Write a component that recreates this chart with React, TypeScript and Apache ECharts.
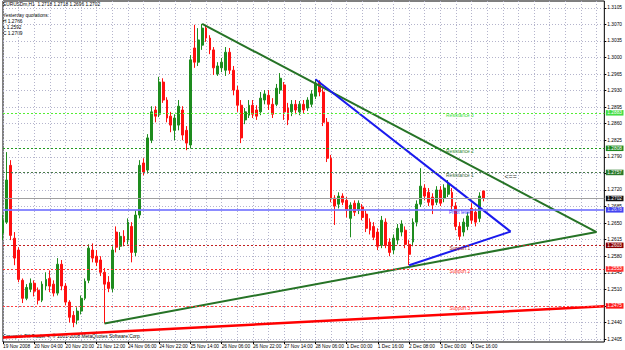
import React, { useEffect, useRef } from "react";
import * as echarts from "echarts";

const symbolName = "EURUSDm,H1";
const xTickLabels = [
  "19 Nov 2008", "20 Nov 04:00", "20 Nov 20:00", "21 Nov 12:00", "24 Nov 06:00", "24 Nov 22:00",
  "25 Nov 14:00", "26 Nov 06:00", "26 Nov 22:00", "27 Nov 14:00", "28 Nov 06:00", "1 Dec 00:00",
  "1 Dec 16:00", "2 Dec 08:00", "3 Dec 00:00", "3 Dec 16:00",
];
const barsPerLabel = 8;
const slotCount = 155;
const yTicks = [
  1.2405, 1.244, 1.2475, 1.251, 1.2545, 1.258, 1.2615, 1.265, 1.2685, 1.272, 1.2755,
  1.279, 1.2825, 1.286, 1.2895, 1.293, 1.2965, 1.3, 1.3035, 1.307, 1.3105,
];
// [open, close, low, high]
const candles = [
  [1.2629, 1.2656, 1.2614, 1.2667], [1.2652, 1.2741, 1.2648, 1.28], [1.2772, 1.2624, 1.2614, 1.2783],
  [1.2618, 1.2576, 1.2561, 1.2631], [1.2593, 1.2531, 1.2525, 1.2599], [1.2529, 1.2491, 1.2481, 1.2533],
  [1.2491, 1.2514, 1.2487, 1.2521], [1.251, 1.2523, 1.2504, 1.2533], [1.2523, 1.2506, 1.2495, 1.2529],
  [1.2508, 1.2487, 1.2478, 1.2514], [1.2487, 1.2521, 1.2483, 1.2527], [1.2517, 1.2531, 1.2508, 1.2546],
  [1.2533, 1.2517, 1.2504, 1.255], [1.2521, 1.2502, 1.2495, 1.2529], [1.2502, 1.2563, 1.2497, 1.2576],
  [1.2563, 1.2517, 1.2508, 1.2572], [1.2517, 1.2483, 1.2476, 1.2523], [1.2483, 1.2451, 1.244, 1.2487],
  [1.2455, 1.244, 1.243, 1.2464], [1.2445, 1.2464, 1.2436, 1.2472], [1.2464, 1.2491, 1.2457, 1.2497],
  [1.2491, 1.2527, 1.2487, 1.2533], [1.2529, 1.2597, 1.2523, 1.2605], [1.2593, 1.2576, 1.2567, 1.2607],
  [1.258, 1.2567, 1.2559, 1.2593], [1.2572, 1.2546, 1.2538, 1.258], [1.2546, 1.2521, 1.2438, 1.2555],
  [1.2525, 1.2512, 1.2504, 1.2538], [1.2512, 1.2593, 1.2504, 1.2601], [1.2631, 1.2599, 1.2588, 1.2643],
  [1.2601, 1.2622, 1.2593, 1.2631], [1.2622, 1.261, 1.2601, 1.2635], [1.2614, 1.2652, 1.2605, 1.266],
  [1.2643, 1.2588, 1.2567, 1.2652], [1.2588, 1.2667, 1.258, 1.2677], [1.2667, 1.2772, 1.266, 1.2783],
  [1.2777, 1.2758, 1.2751, 1.2787], [1.2762, 1.283, 1.2755, 1.2838], [1.2825, 1.2885, 1.2819, 1.2897],
  [1.2889, 1.2876, 1.2863, 1.2897], [1.288, 1.2948, 1.2874, 1.2959], [1.2948, 1.291, 1.2904, 1.2956],
  [1.291, 1.2872, 1.2863, 1.2916], [1.2876, 1.2857, 1.2842, 1.2885], [1.2846, 1.2872, 1.2825, 1.288],
  [1.2857, 1.2897, 1.2846, 1.291], [1.2889, 1.2836, 1.2825, 1.2897], [1.2846, 1.2819, 1.2804, 1.2855],
  [1.2815, 1.2995, 1.2808, 1.3005], [1.302, 1.299, 1.2978, 1.3069], [1.299, 1.3037, 1.2982, 1.3062],
  [1.3026, 1.3062, 1.3016, 1.3071], [1.3062, 1.3041, 1.3033, 1.3069], [1.3041, 1.3016, 1.3007, 1.3047],
  [1.3016, 1.2978, 1.2963, 1.3022], [1.2965, 1.2982, 1.2961, 1.299], [1.2978, 1.299, 1.2969, 1.2999],
  [1.2973, 1.3011, 1.2961, 1.3022], [1.3011, 1.2973, 1.2965, 1.302], [1.2973, 1.2931, 1.292, 1.2982],
  [1.2931, 1.2899, 1.2885, 1.294], [1.2899, 1.283, 1.2819, 1.291], [1.2868, 1.2885, 1.2859, 1.2893],
  [1.2878, 1.2899, 1.2872, 1.291], [1.2899, 1.288, 1.2872, 1.291], [1.2889, 1.2876, 1.2868, 1.2899],
  [1.2885, 1.2914, 1.2878, 1.2927], [1.291, 1.2923, 1.2901, 1.2931], [1.292, 1.2901, 1.2889, 1.2931],
  [1.2901, 1.288, 1.2872, 1.2914], [1.2901, 1.2935, 1.2897, 1.2944], [1.2931, 1.2956, 1.2923, 1.2967],
  [1.2942, 1.2885, 1.2868, 1.2948], [1.2893, 1.2868, 1.2857, 1.2904], [1.2885, 1.2901, 1.2876, 1.291],
  [1.2901, 1.2889, 1.288, 1.291], [1.2885, 1.2901, 1.2878, 1.2908], [1.2901, 1.2889, 1.2882, 1.291],
  [1.2893, 1.291, 1.2887, 1.2916], [1.2901, 1.2923, 1.2895, 1.2931], [1.2918, 1.2946, 1.2912, 1.2954],
  [1.2948, 1.2927, 1.2918, 1.2952], [1.2927, 1.2863, 1.2855, 1.2935], [1.2863, 1.2787, 1.2779, 1.2872],
  [1.2787, 1.2703, 1.2694, 1.2794], [1.2703, 1.2686, 1.2646, 1.2709], [1.269, 1.2707, 1.2681, 1.2715],
  [1.2707, 1.2694, 1.2688, 1.2713], [1.2698, 1.2677, 1.2662, 1.2705], [1.266, 1.2688, 1.262, 1.2694],
  [1.2692, 1.2673, 1.2665, 1.2698], [1.2677, 1.2692, 1.2669, 1.2698], [1.2684, 1.2662, 1.2656, 1.269],
  [1.2669, 1.2639, 1.2631, 1.2677], [1.2652, 1.2635, 1.2626, 1.266], [1.2643, 1.262, 1.2614, 1.2652],
  [1.2631, 1.2601, 1.2593, 1.2639], [1.2603, 1.2656, 1.2597, 1.2665], [1.2652, 1.2603, 1.2597, 1.266],
  [1.261, 1.2588, 1.258, 1.2618], [1.2593, 1.2618, 1.2584, 1.2626], [1.2614, 1.2639, 1.2605, 1.2648],
  [1.2631, 1.2648, 1.2622, 1.2656], [1.2635, 1.2605, 1.2597, 1.2643], [1.2605, 1.2584, 1.2561, 1.2614],
  [1.261, 1.2652, 1.2601, 1.266], [1.2652, 1.269, 1.2643, 1.2698], [1.269, 1.2728, 1.2684, 1.2766],
  [1.2724, 1.2707, 1.2698, 1.2732], [1.2715, 1.2694, 1.2686, 1.2724], [1.2705, 1.2688, 1.2669, 1.2713],
  [1.2694, 1.272, 1.2688, 1.2728], [1.272, 1.2692, 1.2686, 1.2728], [1.2703, 1.2724, 1.2694, 1.2732],
  [1.2711, 1.2732, 1.2705, 1.2741], [1.2715, 1.2686, 1.2677, 1.2724], [1.2686, 1.2643, 1.2635, 1.2694],
  [1.2643, 1.2622, 1.2614, 1.2652], [1.2631, 1.2652, 1.2622, 1.266], [1.2643, 1.2665, 1.2635, 1.2673],
  [1.2681, 1.2656, 1.2648, 1.2692], [1.2673, 1.2652, 1.2643, 1.2681], [1.266, 1.2707, 1.2652, 1.2715],
  [1.2718, 1.2702, 1.2696, 1.2718],
];
const levelNames = ["Resistance 3", "Resistance 2", "Resistance 1", "Pivot level", "Support 1", "Support 2", "Support 3"];
const levelValues = [1.2883, 1.2808, 1.2757, 1.2678, 1.2603, 1.2553, 1.2475];
const yesterdayNames = ["H", "L", "C"];
const yesterdayValues = [1.2766, 1.2592, 1.2709];
const greenUpper = [[51, 1.3071], [152, 1.2631]];
const greenLower = [[26, 1.2438], [152, 1.2631]];
const blueUpper = [[80, 1.2954], [130, 1.2632]];
const blueLower = [[104, 1.2561], [130, 1.2632]];
const redTrend = [[0, 1.2408], [154, 1.2474]];
const arrowPoint = [130, 1.2749];
const levelLabelBar = 117;
const copyright = "Forexpok FX Trader 4, \u00a9 2001-2008 MetaQuotes Software Corp.";

// styles
const FONT = "Liberation Sans, Arial, sans-serif";
const FS = 4.8;
const levelLineColors = ["#55ee33", "#1f9a1f", "#4a7a4a", "#7878ff", "#c02020", "#ff3030", "#ff4040"];
const levelLineTypes: any[] = [[2, 2], [2, 2], [2, 2], "solid", [2, 2], [2, 2], [2, 2]];
const levelLineWidths = [1, 1, 1, 2, 1, 1, 1];
const levelBoxColors = ["#44dd44", "#1f8a1f", "#2a7a2a", "#2222ee", "#8b0000", "#ff3030", "#ff1a1a"];
const levelTextColors = ["#44dd44", "#2e8b2e", "#3a6a3a", "#3333ff", "#a02020", "#ff3333", "#ff3333"];

export default function App() {
  const ref = useRef<HTMLDivElement>(null);
  useEffect(() => {
    if (!ref.current) return;
    const chart = echarts.init(ref.current, undefined, { renderer: "svg" });
    const last = candles[candles.length - 1];
    const bid = last[1];
    const categories = Array.from({ length: slotCount }, (_, i) => String(i));
    const lastLabelIdx = (xTickLabels.length - 1) * barsPerLabel;

    const boxLabel = (text: string, bg: string) => ({
      show: true, position: "end", formatter: text, backgroundColor: bg,
      color: "#fff", fontSize: FS, fontFamily: FONT, padding: [0.5, 1.5, 0, 1.5], distance: 1.5,
    });
    const levelLines: any[] = levelValues.map((v, i) => ({
      yAxis: v,
      lineStyle: { color: levelLineColors[i], type: levelLineTypes[i], width: levelLineWidths[i], opacity: i === 3 ? 0.85 : 1 },
      label: boxLabel(v.toFixed(4), levelBoxColors[i]),
    }));
    levelLines.push({
      yAxis: bid,
      lineStyle: { color: "#a0a0a0", type: "solid", width: 1 },
      label: boxLabel(bid.toFixed(4), "#111"),
    });

    const levelTexts: any[] = levelNames.map((n, i) => ({
      coord: [levelLabelBar, levelValues[i]],
      symbol: "circle", symbolSize: 1, itemStyle: { color: "transparent" },
      label: { show: true, position: "inside", formatter: n, color: levelTextColors[i], fontSize: FS, fontFamily: FONT, offset: [0, 3] },
    }));
    levelTexts.push({
      coord: arrowPoint, symbol: "circle", symbolSize: 1, itemStyle: { color: "transparent" },
      label: { show: true, position: "inside", formatter: "<==", color: "#333", fontSize: 7, fontFamily: FONT },
    });

    const trend = (data: number[][], color: string, width: number, extra: any = {}) => ({
      type: "line", data, symbol: "none", silent: true, z: 4,
      lineStyle: { color, width }, itemStyle: { color }, animation: false, ...extra,
    });

    const headerLines = [
      `${symbolName}  ${last[0].toFixed(4)} ${last[3].toFixed(4)} ${last[2].toFixed(4)} ${last[1].toFixed(4)}`,
      "",
      "Yesterday quotations:",
      ...yesterdayNames.map((n, i) => `${n} ${yesterdayValues[i].toFixed(4)}`),
    ];

    chart.setOption({
      animation: false,
      backgroundColor: "#ffffff",
      textStyle: { fontFamily: FONT },
      grid: { left: 2, right: 19, top: 1, bottom: 8, show: true, borderColor: "#000", borderWidth: 1, backgroundColor: "#fff" },
      xAxis: {
        type: "category", data: categories, boundaryGap: false,
        axisLine: { show: false },
        axisTick: { show: true, length: 2, lineStyle: { color: "#000" }, interval: (i: number) => i % barsPerLabel === 0 && i <= lastLabelIdx },
        axisLabel: {
          interval: 0, align: "left", margin: 1.5, fontSize: FS, color: "#000", fontFamily: FONT,
          formatter: (_v: string, i: number) => (i % barsPerLabel === 0 && i <= lastLabelIdx ? xTickLabels[i / barsPerLabel] : ""),
        },
        splitLine: { show: true, interval: (i: number) => i % 4 === 0, lineStyle: { color: "#b4b4cc", type: [1, 2], width: 1 } },
      },
      yAxis: {
        type: "value", position: "right", min: 1.23987, max: 1.31193,
        axisLine: { show: false },
        axisTick: { show: true, length: 2, customValues: yTicks, lineStyle: { color: "#000" } },
        axisLabel: { customValues: yTicks, fontSize: FS, color: "#000", margin: 3, fontFamily: FONT, formatter: (v: number) => v.toFixed(4) },
        splitLine: { show: true, lineStyle: { color: "#b4b4cc", type: [1, 2], width: 1 } },
      },
      series: [
        {
          type: "candlestick", data: candles, barWidth: 2.4, z: 3,
          itemStyle: { color: "#1e8c1e", color0: "#ff1010", borderColor: "#1e8c1e", borderColor0: "#ff1010", borderWidth: 1 },
          markPoint: { silent: true, animation: false, data: levelTexts },
        },
        trend(redTrend, "#ff0000", 2.5, {
          markLine: { silent: true, precision: 4, symbol: ["none", "none"], animation: false, data: levelLines },
        }),
        trend(greenUpper, "#267326", 2),
        trend(greenLower, "#267326", 2),
        trend(blueUpper, "#1a1aee", 2),
        trend(blueLower, "#1a1aee", 2),
      ],
      graphic: [
        ...headerLines.map((t, i) => ({
          type: "text", left: 3, top: 2 + i * 5.7, silent: true,
          style: { text: t, fontSize: FS, fontFamily: FONT, fill: "#000" },
        })),
        {
          type: "text", left: 3, top: 334, silent: true,
          style: { text: copyright, fontSize: FS, fontFamily: FONT, fill: "#000" },
        },
      ],
    });
    return () => chart.dispose();
  }, []);
  return <div ref={ref} style={{ position: "fixed", left: 0, top: 0, width: 625, height: 350 }} />;
}
